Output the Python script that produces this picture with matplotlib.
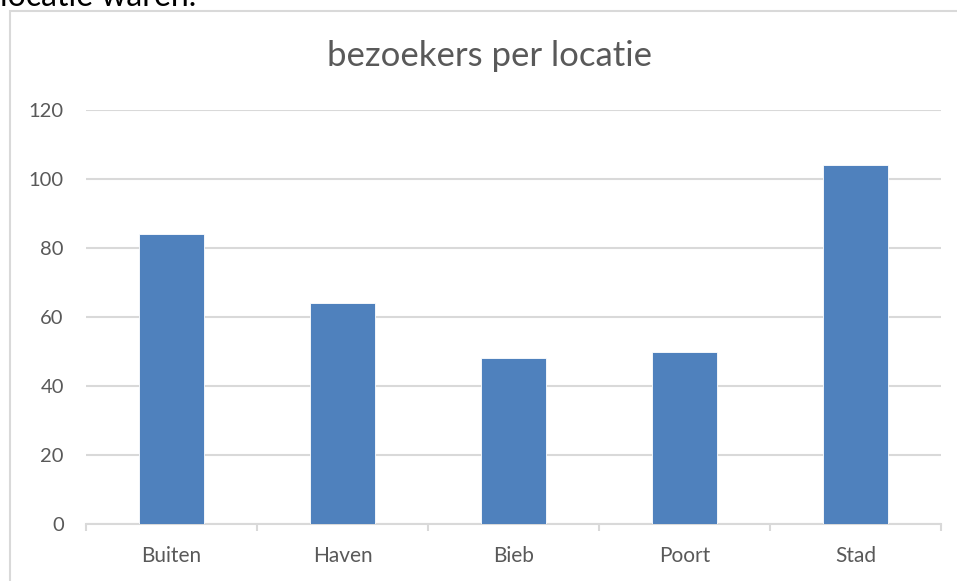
import matplotlib
matplotlib.use("Agg")
import matplotlib.pyplot as plt
from matplotlib.patches import Rectangle
import numpy as np

# Gegevens uit de grafiek
locaties = ["Buiten", "Haven", "Bieb", "Poort", "Stad"]
bezoekers = [84, 64, 48, 50, 104]
y_ticks = [0, 20, 40, 60, 80, 100, 120]

W, H = 957, 581
tekst_kleur = "#595959"
grid_kleur = "#d9d9d9"
balk_kleur = "#4f81bd"

plt.rcParams["font.family"] = ["Lato", "DejaVu Sans"]

fig = plt.figure(figsize=(W / 100, H / 100), dpi=100)

# Tekst van het document boven de grafiek (afgesneden, zoals in het origineel)
fig.text(0 / W, 1 - 6 / H, "locatie waren.", fontsize=23, color="black",
         ha="left", va="baseline")

# Kader van het grafiekgebied
fig.patches.append(Rectangle((9.5 / W, -0.1), 1.2, 1 - 11 / H + 0.1,
                             transform=fig.transFigure, fill=False,
                             edgecolor=grid_kleur, linewidth=1.5))

ax = fig.add_axes([86 / W, 1 - 524 / H, (941 - 86) / W, (524 - 110) / H])

x = np.arange(len(locaties))
ax.bar(x, bezoekers, width=0.38, color=balk_kleur, edgecolor="white",
       linewidth=0.6, zorder=3)

ax.set_xlim(-0.5, len(locaties) - 0.5)
ax.set_ylim(0, 120)
ax.set_yticks(y_ticks)
ax.set_xticks(x)
ax.set_xticklabels(locaties)
ax.set_xticks(np.arange(-0.5, len(locaties), 1), minor=True)

ax.yaxis.grid(True, color=grid_kleur, linewidth=1.5, zorder=0)
ax.set_axisbelow(True)

for s in ["top", "right", "left"]:
    ax.spines[s].set_visible(False)
ax.spines["bottom"].set_color(grid_kleur)
ax.spines["bottom"].set_linewidth(1.5)

ax.tick_params(axis="y", length=0, pad=16, labelsize=14.5, labelcolor=tekst_kleur)
ax.tick_params(axis="x", which="major", length=0, pad=16, labelsize=15,
               labelcolor=tekst_kleur)
ax.tick_params(axis="x", which="minor", length=5, width=1.5, color=grid_kleur)

fig.text(490 / W, 1 - 66 / H, "bezoekers per locatie", fontsize=25,
         color=tekst_kleur, ha="center", va="baseline")

fig.savefig("out.png", dpi=100)
